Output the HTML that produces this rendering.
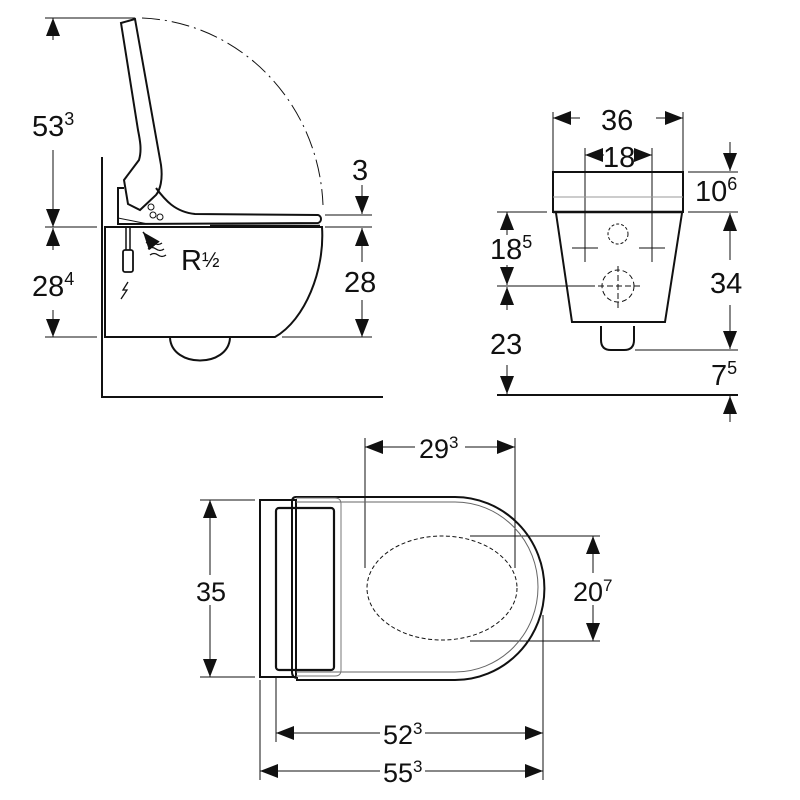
<!DOCTYPE html>
<html><head><meta charset="utf-8"><style>
html,body{margin:0;padding:0;background:#fff}
svg{display:block}
text{font-family:"Liberation Sans",Arial,sans-serif;fill:#111}
</style></head><body>
<svg width="800" height="800" viewBox="0 0 800 800" xmlns="http://www.w3.org/2000/svg">
<defs>
<marker id="a" viewBox="0 0 18 14" refX="18" refY="7" markerWidth="18" markerHeight="14" markerUnits="userSpaceOnUse" orient="auto-start-reverse"><path d="M0,0 L18,7 L0,14 Z" fill="#111"/></marker>
</defs>
<g fill="none" stroke="#111" stroke-width="1">
<!-- ===== SIDE VIEW ===== -->
<path d="M45,18H135 M45,227H97 M45,337H97 M325,215H372 M325,227H372 M282,337H372"/>
<path d="M53,40V18" marker-end="url(#a)"/>
<path d="M53,150V227" marker-end="url(#a)"/>
<path d="M53,228V228"/>
<path d="M53,250V228" marker-end="url(#a)"/>
<path d="M53,310V337" marker-end="url(#a)"/>
<path d="M362,185V214" marker-end="url(#a)"/>
<path d="M362,262V228" marker-end="url(#a)"/>
<path d="M362,300V337" marker-end="url(#a)"/>
<path d="M102,157V397H383" stroke-width="2"/>
<path d="M142,18 A188,195 0 0 1 323,205" stroke-dasharray="18,5,2,5"/>
<path d="M105,227H322 C325,270 305,320 275,337 H105 Z" stroke-width="2"/>
<path d="M170,338 C172,368 228,368 230,338" stroke-width="2"/>
<path d="M121,23 L135,19 L161,165 C163,180 160,190 156,195 L140,210 L128,204 L124,180 L139,160 C142,150 140,140 138,130 Z" stroke-width="2"/>
<path d="M156,188 C165,200 175,212 195,214 L318,215 C322,216 322,222 318,223 L118,224 L118,188 L124,188" stroke-width="2"/>
<path d="M118,218 L148,224" stroke-width="1"/>
<path d="M210,226H320" stroke-width="2.5"/>
<circle cx="151" cy="207" r="3"/><circle cx="153" cy="215" r="3"/><circle cx="160" cy="217" r="3"/>
<path d="M126,227V250 M130,227V250" stroke-width="1.5"/>
<rect x="123" y="250" width="10" height="22" rx="2" stroke-width="1.8"/>
<path d="M128,282 l-5,8 h4 l-6,9" stroke-width="1.3"/>
<path d="M146,243 q4,-3 8,0 t8,0 M148,249 q4,-3 8,0 t8,0 M150,255 q4,-3 8,0 t8,0" stroke-width="1.3"/>
<path d="M152,243 L143,232" marker-end="url(#a)" stroke-width="1.5"/>
<!-- ===== FRONT VIEW ===== -->
<path d="M553,112V172 M683,112V172 M585,148V262 M652,148V262"/>
<path d="M580,118H553" marker-end="url(#a)"/>
<path d="M656,118H683" marker-end="url(#a)"/>
<path d="M604,155H585" marker-end="url(#a)"/>
<path d="M634,155H652" marker-end="url(#a)"/>
<rect x="553" y="172" width="130" height="40" stroke-width="2"/>
<path d="M553,197H683" stroke="#999"/>
<path d="M553,212H683" stroke-width="2.5"/>
<path d="M556,213 L572,322 H665 L682,213" stroke-width="2"/>
<path d="M601,326 V340 Q601,350 611,350 H624 Q634,350 634,340 V326" stroke-width="2"/>
<circle cx="618" cy="234" r="10" stroke-dasharray="3,2"/>
<circle cx="618" cy="286" r="16" stroke-dasharray="5,3"/>
<path d="M598,286H640 M618,266V308" stroke-dasharray="6,3"/>
<path d="M572,248H598 M639,248H665"/>
<path d="M688,172H738 M688,212H738 M497,212H547 M497,286H595 M635,350H738"/>
<path d="M497,395H738" stroke-width="2"/>
<path d="M730,142V171" marker-end="url(#a)"/>
<path d="M730,260V213" marker-end="url(#a)"/>
<path d="M730,305V349" marker-end="url(#a)"/>
<path d="M730,422V396" marker-end="url(#a)"/>
<path d="M507,235V212" marker-end="url(#a)"/>
<path d="M507,265V285" marker-end="url(#a)"/>
<path d="M507,310V287" marker-end="url(#a)"/>
<path d="M507,365V394" marker-end="url(#a)"/>
<!-- ===== TOP VIEW ===== -->
<path d="M200,500H255 M200,677H255 M365,438V568 M515,438V568 M470,536H600 M470,641H600 M276,678V742 M543,615V780 M260,680V780"/>
<path d="M210,575V500" marker-end="url(#a)"/>
<path d="M210,605V677" marker-end="url(#a)"/>
<path d="M415,447H365" marker-end="url(#a)"/>
<path d="M465,447H515" marker-end="url(#a)"/>
<path d="M593,573V536" marker-end="url(#a)"/>
<path d="M593,605V641" marker-end="url(#a)"/>
<path d="M380,733H276" marker-end="url(#a)"/>
<path d="M425,733H543" marker-end="url(#a)"/>
<path d="M380,771H260" marker-end="url(#a)"/>
<path d="M425,771H543" marker-end="url(#a)"/>
<rect x="260" y="500" width="36" height="177" stroke-width="2"/>
<path d="M296,497 H455 A88,90 0 0 1 455,680 H296" stroke-width="2"/>
<path d="M296,502 H455 A83,85 0 0 1 455,672 H296" stroke="#666"/>
<path d="M296,497 Q292,497 292,502 V672 Q292,678 298,678" stroke-width="2"/>
<path d="M296,498 H335 Q341,498 341,504 V670 Q341,676 335,676 H296" stroke="#777"/>
<rect x="276" y="508" width="58" height="162" rx="3" stroke-width="2.2"/>
<ellipse cx="442" cy="588" rx="75" ry="52" stroke-dasharray="4,2.5"/>
</g>
<g font-size="29">
<text x="32" y="136">53<tspan font-size="18" dy="-11">3</tspan></text>
<text x="32" y="296">28<tspan font-size="18" dy="-11">4</tspan></text>
<text x="352" y="180">3</text>
<text x="344" y="292">28</text>
<text x="181" y="270">R<tspan font-size="21" dy="-3">½</tspan></text>
<text x="601" y="130">36</text>
<text x="603" y="167">18</text>
<text x="695" y="201">10<tspan font-size="18" dy="-11">6</tspan></text>
<text x="490" y="259">18<tspan font-size="18" dy="-11">5</tspan></text>
<text x="710" y="293">34</text>
<text x="490" y="354">23</text>
<text x="711" y="385">7<tspan font-size="18" dy="-11">5</tspan></text>
<text x="196" y="601" font-size="27">35</text>
<text x="419" y="458" font-size="27">29<tspan font-size="17" dy="-10">3</tspan></text>
<text x="573" y="601" font-size="27">20<tspan font-size="17" dy="-10">7</tspan></text>
<text x="383" y="744" font-size="27">52<tspan font-size="17" dy="-10">3</tspan></text>
<text x="383" y="782" font-size="27">55<tspan font-size="17" dy="-10">3</tspan></text>
</g>
</svg>
</body></html>
